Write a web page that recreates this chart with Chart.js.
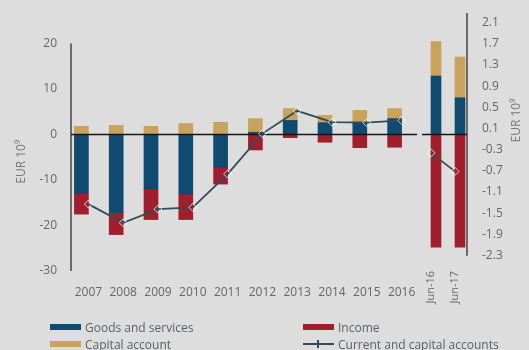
<!DOCTYPE html>
<html lang="en">
<head>
    <meta charset="UTF-8">
    <title>Current and capital accounts</title>
    <script src="https://cdn.jsdelivr.net/npm/chart.js"></script>
    <style>
        body { margin: 0; background: #dddddd; font-family: 'Open Sans', sans-serif; }
        .wrap { position: relative; width: 529px; height: 350px; }
        .item { position: absolute; display: flex; align-items: center; white-space: nowrap; font-size: 12px; color: #5b6166; height: 16px; }
        .swatch { width: 31px; height: 6px; margin-right: 4px; }
        .lineswatch { width: 31px; height: 2px; margin-right: 4px; position: relative; }
        .lineswatch span { position: absolute; left: 14px; top: -3px; width: 2px; height: 8px; }
    </style>
</head>
<body>
    <div class="wrap">
        <canvas id="chart" width="529" height="350"></canvas>
        <div id="legend"></div>
    </div>

    <script>
        // yearly values, EUR bn
        const years = ['2007', '2008', '2009', '2010', '2011', '2012', '2013', '2014', '2015', '2016'];
        const goods = [-13, -17.2, -12, -13.1, -7.2, 0.5, 3.1, 2.6, 2.7, 3.5];
        const income = [-4.5, -4.8, -6.7, -5.6, -3.7, -3.4, -0.7, -1.7, -2.9, -2.8];
        const capital = [1.8, 2.0, 1.8, 2.4, 2.7, 3.0, 2.6, 1.6, 2.6, 2.2];
        const balance = [-15.3, -19.4, -16.4, -16, -8.7, 0.2, 5.2, 2.7, 2.6, 3.1];

        // half-year values, right axis
        const halfYears = ['Jun-16', 'Jun-17'];
        const goodsH = [1.09, 0.68];
        const incomeH = [-2.14, -2.14];
        const capitalH = [0.65, 0.77];
        const balanceH = [-0.36, -0.71];

        const leftTicks = [-30, -20, -10, 0, 10, 20];
        const rightTicks = [-2.3, -1.9, -1.5, -1.1, -0.7, -0.3, 0.1, 0.5, 0.9, 1.3, 1.7, 2.1];

        const colors = {
            goods: '#0f4b70',
            income: '#a11f2c',
            capital: '#c9a35b',
            line: '#2f4d58',
            text: '#666666'
        };
        const tickFont = { family: 'Open Sans', size: 12 };

        const lineStyle = {
            type: 'line',
            borderColor: colors.line,
            borderWidth: 1.8,
            pointStyle: 'rectRot',
            pointRadius: 4,
            pointBorderWidth: 1,
            pointBorderColor: 'rgba(255,255,255,0.75)',
            pointBackgroundColor: 'rgba(0,0,0,0)',
            order: 0
        };

        // keep the plot area where the layout padding puts it
        const noPad = s => { s.paddingTop = 0; s.paddingBottom = 0; s.paddingLeft = 0; s.paddingRight = 0; };

        // axis lines, zero line and axis titles
        let zeroDone = false;
        const decor = {
            id: 'decor',
            beforeDatasetsDraw(chart) {
                zeroDone = false;
                const { ctx, chartArea, scales } = chart;
                ctx.save();
                ctx.strokeStyle = '#6a6a6a';
                ctx.lineWidth = 2;
                ctx.beginPath();
                ctx.moveTo(chartArea.left, scales.y.getPixelForValue(leftTicks[leftTicks.length - 1]));
                ctx.lineTo(chartArea.left, chartArea.bottom);
                ctx.moveTo(chartArea.right, chartArea.top);
                ctx.lineTo(chartArea.right, scales.y2.getPixelForValue(rightTicks[0]));
                ctx.stroke();

                ctx.fillStyle = '#777777';
                ctx.font = '12px "Open Sans"';
                ctx.textAlign = 'center';
                ctx.textBaseline = 'middle';
                ctx.translate(22, scales.y.getPixelForValue(-6));
                ctx.rotate(-Math.PI / 2);
                ctx.fillText('EUR 10\u2079', 0, 0);
                ctx.restore();

                ctx.save();
                ctx.fillStyle = '#777777';
                ctx.font = '12px "Open Sans"';
                ctx.textAlign = 'center';
                ctx.textBaseline = 'middle';
                ctx.translate(517, scales.y2.getPixelForValue(0.25));
                ctx.rotate(-Math.PI / 2);
                ctx.fillText('EUR 10\u2079', 0, 0);
                ctx.restore();
            },
            beforeDatasetDraw(chart, args) {
                if (zeroDone || args.meta.type !== 'line') return;
                zeroDone = true;
                const { ctx, scales } = chart;
                const z = scales.y.getPixelForValue(0);
                ctx.save();
                ctx.strokeStyle = '#151515';
                ctx.lineWidth = 1.5;
                ctx.beginPath();
                ctx.moveTo(scales.x.left, z);
                ctx.lineTo(scales.x.right - 2, z);
                ctx.moveTo(scales.x2.left + 3, z);
                ctx.lineTo(scales.x2.right, z);
                ctx.stroke();
                ctx.restore();
            }
        };

        new Chart(document.getElementById('chart'), {
            type: 'bar',
            data: {
                labels: years,
                datasets: [
                    { label: 'Goods and services', data: goods, backgroundColor: colors.goods, xAxisID: 'x', yAxisID: 'y', barThickness: 14, order: 1 },
                    { label: 'Income', data: income, backgroundColor: colors.income, xAxisID: 'x', yAxisID: 'y', barThickness: 14, order: 1 },
                    { label: 'Capital account', data: capital, backgroundColor: colors.capital, xAxisID: 'x', yAxisID: 'y', barThickness: 14, order: 1 },
                    { ...lineStyle, label: 'Current and capital accounts', data: balance, xAxisID: 'x', yAxisID: 'y' },
                    { label: 'Goods and services', data: goodsH, backgroundColor: colors.goods, xAxisID: 'x2', yAxisID: 'y2', barThickness: 10, order: 1 },
                    { label: 'Income', data: incomeH, backgroundColor: colors.income, xAxisID: 'x2', yAxisID: 'y2', barThickness: 10, order: 1 },
                    { label: 'Capital account', data: capitalH, backgroundColor: colors.capital, xAxisID: 'x2', yAxisID: 'y2', barThickness: 10, order: 1 },
                    { ...lineStyle, label: 'Current and capital accounts', data: balanceH, xAxisID: 'x2', yAxisID: 'y2' }
                ]
            },
            options: {
                responsive: false,
                animation: false,
                devicePixelRatio: 1,
                layout: { padding: { top: 13, left: 0, right: 0, bottom: 39 } },
                plugins: {
                    legend: { display: false },
                    tooltip: { enabled: false }
                },
                scales: {
                    x: {
                        type: 'category',
                        labels: years,
                        position: 'bottom',
                        stack: 'bottom',
                        stackWeight: 348,
                        stacked: true,
                        offset: true,
                        grid: { display: false, drawTicks: false },
                        border: { display: false },
                        ticks: { autoSkip: false, minRotation: 0, maxRotation: 0, padding: 14, color: colors.text, font: tickFont },
                        afterFit: s => { s.height = 40; noPad(s); }
                    },
                    x2: {
                        type: 'category',
                        labels: halfYears,
                        position: 'bottom',
                        stack: 'bottom',
                        stackWeight: 48,
                        stacked: true,
                        offset: true,
                        grid: { display: false, drawTicks: false },
                        border: { display: false },
                        ticks: { autoSkip: false, minRotation: 90, maxRotation: 90, padding: 0, color: colors.text, font: { family: 'Open Sans', size: 11 } },
                        afterFit: s => { s.height = 40; noPad(s); }
                    },
                    y: {
                        position: 'left',
                        stacked: true,
                        min: -30,
                        max: 26.7,
                        grid: { display: false, drawTicks: false },
                        border: { display: false },
                        afterBuildTicks: s => { s.ticks = leftTicks.map(v => ({ value: v })); },
                        ticks: { padding: 14, color: colors.text, font: tickFont },
                        afterFit: s => { s.width = 71; noPad(s); }
                    },
                    y2: {
                        position: 'right',
                        stacked: true,
                        min: -2.59,
                        max: 2.28,
                        grid: { display: false, drawTicks: false },
                        border: { display: false },
                        afterBuildTicks: s => { s.ticks = rightTicks.map(v => ({ value: v })); },
                        ticks: { padding: 15, color: colors.text, font: tickFont, callback: v => v.toFixed(1) },
                        afterFit: s => { s.width = 62; noPad(s); }
                    }
                }
            },
            plugins: [decor]
        });

        // two-column legend under the chart
        const legendItems = [
            { label: 'Goods and services', color: colors.goods, left: 50, top: 319 },
            { label: 'Income', color: colors.income, left: 303, top: 319 },
            { label: 'Capital account', color: colors.capital, left: 50, top: 336 },
            { label: 'Current and capital accounts', color: colors.line, left: 303, top: 336, line: true }
        ];
        const legend = document.getElementById('legend');
        legendItems.forEach(item => {
            const mark = item.line
                ? `<div class="lineswatch" style="background:${item.color}"><span style="background:${item.color}"></span></div>`
                : `<div class="swatch" style="background:${item.color}"></div>`;
            legend.innerHTML += `<div class="item" style="left:${item.left}px;top:${item.top}px">${mark}${item.label}</div>`;
        });
    </script>
</body>
</html>
